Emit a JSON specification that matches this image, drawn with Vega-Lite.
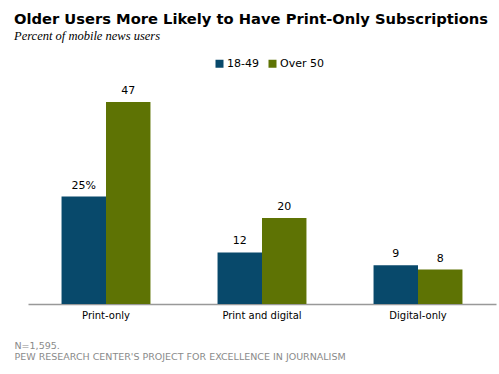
{
  "$schema": "https://vega.github.io/schema/vega-lite/v6.json",
  "width": 468,
  "height": 215,
  "autosize": "none",
  "padding": {"left": 28, "top": 89, "right": 3, "bottom": 70},
  "background": "white",
  "title": {
    "text": "Older Users More Likely to Have Print-Only Subscriptions",
    "subtitle": "Percent of mobile news users",
    "anchor": "start",
    "frame": "group",
    "dx": -14,
    "offset": 16,
    "font": "DejaVu Sans",
    "fontSize": 14.7,
    "fontWeight": "bold",
    "color": "#000000",
    "subtitleFont": "Liberation Serif",
    "subtitleFontStyle": "italic",
    "subtitleFontSize": 12.5,
    "subtitleColor": "#000000",
    "subtitlePadding": 3
  },
  "data": {
    "values": [
      {"type": "Print-only", "age": "18-49", "value": 25, "label": "25%"},
      {"type": "Print-only", "age": "Over 50", "value": 47, "label": "47"},
      {"type": "Print and digital", "age": "18-49", "value": 12, "label": "12"},
      {"type": "Print and digital", "age": "Over 50", "value": 20, "label": "20"},
      {"type": "Digital-only", "age": "18-49", "value": 9, "label": "9"},
      {"type": "Digital-only", "age": "Over 50", "value": 8, "label": "8"}
    ]
  },
  "encoding": {
    "x": {
      "field": "type",
      "type": "nominal",
      "sort": ["Print-only", "Print and digital", "Digital-only"],
      "scale": {"paddingInner": 0.43, "paddingOuter": 0.215},
      "axis": {
        "labelAngle": 0,
        "ticks": false,
        "domainColor": "#999999",
        "domainWidth": 1.5,
        "labelFont": "DejaVu Sans",
        "labelFontSize": 10,
        "labelColor": "#000000",
        "labelPadding": 6,
        "title": ["N=1,595.", "PEW RESEARCH CENTER'S PROJECT FOR EXCELLENCE IN JOURNALISM"],
        "titleFont": "DejaVu Sans",
        "titleFontSize": 9.5,
        "titleFontWeight": "normal",
        "titleColor": "#8a8a8a",
        "titleAlign": "left",
        "titleAnchor": "start",
        "titleBaseline": "top",
        "titleX": -14,
        "titleY": 36,
        "titleLineHeight": 11
      }
    },
    "xOffset": {"field": "age", "type": "nominal", "scale": {"paddingInner": 0, "paddingOuter": 0}},
    "y": {
      "field": "value",
      "type": "quantitative",
      "scale": {"domain": [0, 50]},
      "axis": null
    }
  },
  "layer": [
    {
      "mark": {"type": "bar"},
      "encoding": {
        "color": {
          "field": "age",
          "type": "nominal",
          "scale": {"domain": ["18-49", "Over 50"], "range": ["#08496B", "#5E7304"]},
          "legend": {
            "title": null,
            "orient": "none",
            "direction": "horizontal",
            "legendX": 186,
            "legendY": -31,
            "symbolType": "square",
            "symbolSize": 64,
            "symbolStrokeWidth": 0,
            "labelFont": "DejaVu Sans",
            "labelFontSize": 11,
            "labelColor": "#000000",
            "labelOffset": 2,
            "columnPadding": 8
          }
        }
      }
    },
    {
      "mark": {"type": "text", "baseline": "bottom", "dy": -6, "font": "DejaVu Sans", "fontSize": 11, "color": "#000000"},
      "encoding": {
        "text": {"field": "label"}
      }
    }
  ],
  "config": {
    "view": {"stroke": null}
  }
}
